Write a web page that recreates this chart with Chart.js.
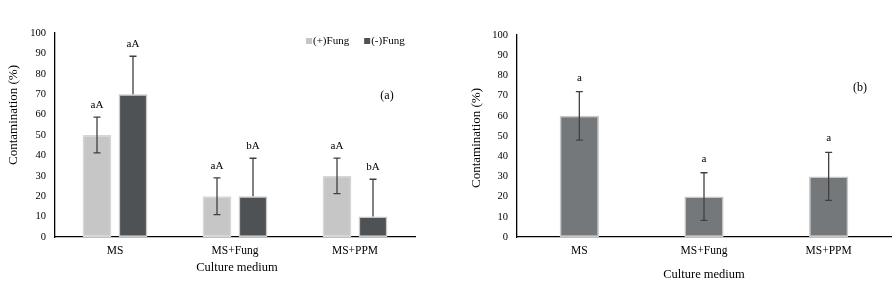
<!DOCTYPE html>
<html>
<head>
<meta charset="utf-8">
<script src="https://cdn.jsdelivr.net/npm/chart.js@4/dist/chart.umd.min.js"></script>
<style>
  html, body { margin: 0; padding: 0; background: #fff; }
  #wrap { position: relative; width: 892px; height: 283px; overflow: hidden; }
  canvas { position: absolute; top: 0; }
  #ca { left: 0; }
  #cb { left: 446px; }
</style>
</head>
<body>
<div id="wrap">
  <canvas id="ca" width="446" height="283"></canvas>
  <canvas id="cb" width="446" height="283"></canvas>
</div>
<script>
// ---- Data ----
const categories = ['MS', 'MS+Fung', 'MS+PPM'];
const yTicks = [0, 10, 20, 30, 40, 50, 60, 70, 80, 90, 100];

// Panel (a)
const plusFung = [50, 20, 30];
const plusFungErr = [8.8, 9, 8.7];
const plusFungLetters = ['aA', 'aA', 'aA'];
const minusFung = [70, 20, 10];
const minusFungErr = [18.6, 18.6, 18.3];
const minusFungLetters = ['aA', 'bA', 'bA'];

// Panel (b)
const mediumB = [60, 20, 30];
const mediumBErr = [12, 11.8, 11.9];
const mediumBLetters = ['a', 'a', 'a'];

const SERIF = '"Liberation Serif", "Times New Roman", serif';

// ---- Plugins ----
const errorBars = {
  id: 'errorBars',
  afterDatasetsDraw(chart, args, opts) {
    const ctx = chart.ctx;
    const y = chart.scales.y;
    chart.data.datasets.forEach((ds, i) => {
      const meta = chart.getDatasetMeta(i);
      meta.data.forEach((bar, j) => {
        const v = ds.data[j], e = ds.errors[j];
        const top = y.getPixelForValue(v + e);
        const bot = y.getPixelForValue(ds.plusOnly ? v : v - e);
        ctx.save();
        ctx.strokeStyle = '#404040';
        ctx.lineWidth = 1.3;
        ctx.beginPath();
        ctx.moveTo(bar.x, top); ctx.lineTo(bar.x, bot);
        ctx.moveTo(bar.x - 3.5, top); ctx.lineTo(bar.x + 3.5, top);
        if (!ds.plusOnly) { ctx.moveTo(bar.x - 3.5, bot); ctx.lineTo(bar.x + 3.5, bot); }
        ctx.stroke();
        ctx.fillStyle = '#000';
        ctx.font = opts.letterFont;
        ctx.textAlign = 'center';
        ctx.textBaseline = 'alphabetic';
        ctx.fillText(ds.letters[j], bar.x, top - opts.letterGap);
        ctx.restore();
      });
    });
  }
};

const annotations = {
  id: 'annotations',
  afterDraw(chart, args, opts) {
    const ctx = chart.ctx;
    const ca = chart.chartArea;
    ctx.save();
    ctx.fillStyle = '#000';
    ctx.textAlign = 'center';
    ctx.textBaseline = 'middle';
    // y title
    ctx.save();
    ctx.font = '13px ' + SERIF;
    ctx.translate(opts.yTitleX, opts.yTitleY);
    ctx.rotate(-Math.PI / 2);
    ctx.fillText('Contamination (%)', 0, 0);
    ctx.restore();
    // x title
    ctx.font = '12.5px ' + SERIF;
    ctx.fillText('Culture medium', (ca.left + ca.right) / 2 + opts.xTitleDx, opts.xTitleY);
    // panel tag
    ctx.font = '12px ' + SERIF;
    ctx.fillText(opts.tag, opts.tagX, opts.tagY);
    // legend (from dataset labels and colours)
    if (opts.legendX !== undefined) {
      let x = opts.legendX;
      const ly = opts.legendY;
      ctx.font = '11px ' + SERIF;
      ctx.textAlign = 'left';
      chart.data.datasets.forEach(ds => {
        ctx.fillStyle = ds.backgroundColor;
        ctx.fillRect(x, ly - 3, 6, 6);
        ctx.fillStyle = '#000';
        ctx.fillText(ds.label, x + 7, ly);
        x += 7 + ctx.measureText(ds.label).width + 15;
      });
    }
    ctx.restore();
  }
};

function scalesFor(yWidth) {
  return {
    x: {
      grid: { display: false, drawTicks: false },
      border: { display: true, color: '#000', width: 1.3 },
      ticks: { color: '#000', font: { family: SERIF, size: 11.5 }, padding: 7 },
      afterFit(s) { s.height = 46; }
    },
    y: {
      min: 0, max: 100,
      afterBuildTicks(s) { s.ticks = yTicks.map(v => ({ value: v })); },
      grid: { display: false, drawTicks: false },
      border: { display: true, color: '#000', width: 1.3 },
      ticks: { color: '#000', font: { family: SERIF, size: 10.5 }, padding: 9 },
      afterFit(s) { s.width = yWidth; }
    }
  };
}

new Chart(document.getElementById('ca'), {
  type: 'bar',
  data: {
    labels: categories,
    datasets: [
      { label: '(+)Fung', data: plusFung, errors: plusFungErr, letters: plusFungLetters,
        backgroundColor: '#c6c6c6', borderColor: '#d6d6d6', borderWidth: 1.5, borderSkipped: false,
        barPercentage: 0.8, categoryPercentage: 0.6 },
      { label: '(-)Fung', data: minusFung, errors: minusFungErr, letters: minusFungLetters, plusOnly: true,
        backgroundColor: '#4e5254', borderColor: '#c8c8c8', borderWidth: 1.5, borderSkipped: false,
        barPercentage: 0.8, categoryPercentage: 0.6 }
    ]
  },
  options: {
    responsive: false,
    animation: false,
    devicePixelRatio: 1,
    layout: { padding: { left: 0, right: 31, top: 33, bottom: 0 } },
    scales: scalesFor(55),
    plugins: {
      tooltip: { enabled: false },
      legend: { display: false },
      errorBars: { letterFont: '11px ' + SERIF, letterGap: 9 },
      annotations: { yTitleX: 14, yTitleY: 115, xTitleY: 268, xTitleDx: 2, tag: '(a)', tagX: 387, tagY: 96,
                     legendX: 306, legendY: 41 }
    }
  },
  plugins: [errorBars, annotations]
});

new Chart(document.getElementById('cb'), {
  type: 'bar',
  data: {
    labels: categories,
    datasets: [
      { label: 'Contamination', data: mediumB, errors: mediumBErr, letters: mediumBLetters,
        backgroundColor: '#75787a', borderColor: '#c8c8c8', borderWidth: 1.5, borderSkipped: false,
        barPercentage: 0.9, categoryPercentage: 0.35 }
    ]
  },
  options: {
    responsive: false,
    animation: false,
    devicePixelRatio: 1,
    layout: { padding: { left: 0, right: 1, top: 35, bottom: 0 } },
    scales: scalesFor(71),
    plugins: {
      tooltip: { enabled: false },
      legend: { display: false },
      errorBars: { letterFont: '11px ' + SERIF, letterGap: 11 },
      annotations: { yTitleX: 31, yTitleY: 138, xTitleY: 275, xTitleDx: 0, tag: '(b)', tagX: 414, tagY: 88 }
    }
  },
  plugins: [errorBars, annotations]
});
</script>
</body>
</html>
